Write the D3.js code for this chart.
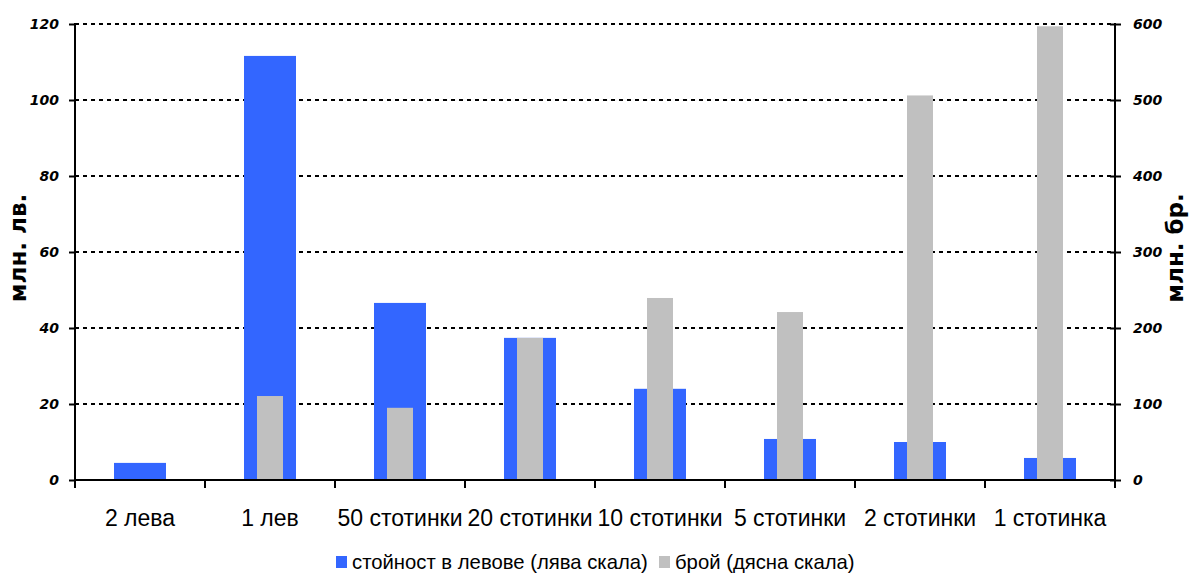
<!DOCTYPE html>
<html>
<head>
<meta charset="utf-8">
<script src="https://cdn.jsdelivr.net/npm/d3@7"></script>
<style>
  body { margin: 0; background: #fff; }
  svg { display: block; }
</style>
</head>
<body>
<svg id="chart" width="1189" height="574"></svg>
<script>
const categories = ["2 лева", "1 лев", "50 стотинки", "20 стотинки", "10 стотинки", "5 стотинки", "2 стотинки", "1 стотинка"];
const valueLeva = [4.5, 111.6, 46.6, 37.4, 24.0, 10.8, 10.0, 5.8];
const countPieces = [1, 110.5, 95, 187, 239.5, 221, 506, 597];
const leftTicks = [0, 20, 40, 60, 80, 100, 120];
const rightTicks = [0, 100, 200, 300, 400, 500, 600];
const seriesNames = ["стойност в левове (лява скала)", "брой (дясна скала)"];
const leftTitle = "млн. лв.";
const rightTitle = "млн. бр.";

const svg = d3.select("#chart");
const m = { left: 75, right: 1115, top: 24, bottom: 480 };
const blue = "#3366ff", gray = "#c0c0c0";

const x = d3.scaleBand().domain(categories).range([m.left, m.right]).paddingInner(0).paddingOuter(0);
const yL = d3.scaleLinear().domain([0, 120]).range([m.bottom, m.top]);
const yR = d3.scaleLinear().domain([0, 600]).range([m.bottom, m.top]);

// gridlines
svg.append("g").selectAll("line").data(leftTicks.filter(d => d > 0)).join("line")
  .attr("x1", m.left).attr("x2", m.right)
  .attr("y1", d => yL(d)).attr("y2", d => yL(d))
  .attr("stroke", "#000").attr("stroke-width", 2).attr("stroke-dasharray", "4,4");

const bw = 52, gw = 26;
// blue bars
svg.append("g").selectAll("rect").data(categories).join("rect")
  .attr("x", d => x(d) + x.bandwidth() / 2 - bw / 2)
  .attr("width", bw)
  .attr("y", (d, i) => yL(valueLeva[i]))
  .attr("height", (d, i) => m.bottom - yL(valueLeva[i]))
  .attr("fill", blue);
// gray bars
svg.append("g").selectAll("rect").data(categories).join("rect")
  .attr("x", d => x(d) + x.bandwidth() / 2 - gw / 2)
  .attr("width", gw)
  .attr("y", (d, i) => yR(countPieces[i]))
  .attr("height", (d, i) => m.bottom - yR(countPieces[i]))
  .attr("fill", gray);

// axes
const tickFont = "'DejaVu Sans', Verdana, sans-serif";
const gL = svg.append("g").attr("transform", `translate(${m.left},0)`)
  .call(d3.axisLeft(yL).tickValues(leftTicks).tickSize(6).tickPadding(10).tickFormat(d3.format("d")));
const gR = svg.append("g").attr("transform", `translate(${m.right},0)`)
  .call(d3.axisRight(yR).tickValues(rightTicks).tickSize(6).tickPadding(12).tickFormat(d3.format("d")));
[gL, gR].forEach(g => {
  g.select(".domain").attr("stroke", "#000").attr("stroke-width", 2).attr("d", g === gL ? `M0,${m.top - 1}V${m.bottom}` : `M0,${m.top - 1}V${m.bottom + 8}`);
  g.selectAll(".tick line").attr("stroke", "#000").attr("stroke-width", 2);
  g.selectAll(".tick text").attr("font-family", tickFont).attr("font-size", 14)
    .attr("font-weight", "bold").attr("font-style", "italic").attr("fill", "#000");
});
gR.selectAll(".tick line").attr("x1", -5);

// bottom axis
const gB = svg.append("g").attr("transform", `translate(0,${m.bottom})`);
gB.append("line").attr("x1", m.left).attr("x2", m.right).attr("y1", 0).attr("y2", 0)
  .attr("stroke", "#000").attr("stroke-width", 2);
gB.selectAll("line.tk").data(categories.concat(["end"])).join("line").attr("class", "tk")
  .attr("x1", (d, i) => m.left + i * x.bandwidth()).attr("x2", (d, i) => m.left + i * x.bandwidth())
  .attr("y1", 0).attr("y2", 8).attr("stroke", "#000").attr("stroke-width", 2);
gB.selectAll("text").data(categories).join("text")
  .attr("x", d => x(d) + x.bandwidth() / 2).attr("y", 46)
  .attr("text-anchor", "middle")
  .attr("font-family", "'Liberation Sans', Arial, sans-serif").attr("font-size", 23)
  .attr("fill", "#000").text(d => d);

// axis titles
svg.append("text").attr("transform", "translate(26,248) rotate(-90)")
  .attr("text-anchor", "middle").attr("font-family", tickFont).attr("font-weight", "bold")
  .attr("font-size", 23).text(leftTitle);
svg.append("text").attr("transform", "translate(1183,248) rotate(-90)")
  .attr("text-anchor", "middle").attr("font-family", tickFont).attr("font-weight", "bold")
  .attr("font-size", 23).text(rightTitle);

// legend
const legend = svg.append("g");
const legX = [336, 659];
seriesNames.forEach((s, i) => {
  legend.append("rect").attr("x", legX[i]).attr("y", 556).attr("width", 11).attr("height", 12)
    .attr("fill", i === 0 ? blue : gray);
  legend.append("text").attr("x", legX[i] + 16).attr("y", 569)
    .attr("font-family", "'Liberation Sans', Arial, sans-serif").attr("font-size", 20.3)
    .attr("fill", "#000").text(s);
});
</script>
</body>
</html>
